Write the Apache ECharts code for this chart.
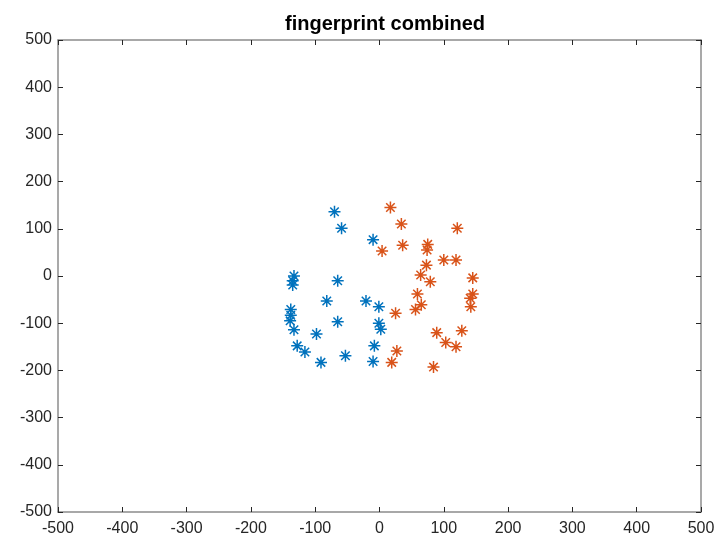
<!DOCTYPE html>
<html>
<head>
<meta charset="utf-8">
<script src="https://cdn.jsdelivr.net/npm/echarts@6/dist/echarts.min.js"></script>
<style>
  html, body { margin: 0; padding: 0; background: #fff; }
  #chart { width: 720px; height: 540px; }
</style>
</head>
<body>
<div id="chart"></div>
<script>
// Fingerprint minutiae, two sets plotted together
const titleText = 'fingerprint combined';
const axisMin = -500;
const axisMax = 500;
const axisStep = 100;

const setA = [
  [-70, 136], [-59, 101], [-10, 77], [-133, 0], [-135, -10], [-135, -19],
  [-65, -10], [-82, -53], [-21, -53], [-1, -65], [-138, -71], [-138, -83],
  [-139, -95], [-133, -114], [-65, -97], [-98, -123], [-1, -100], [2, -113],
  [-128, -148], [-116, -161], [-53, -169], [-91, -183], [-8, -148], [-10, -181]
];

const setB = [
  [17, 145], [34, 110], [121, 101], [36, 65], [4, 53], [75, 67], [74, 55],
  [100, 34], [119, 34], [73, 23], [64, 2], [79, -12], [145, -4], [59, -38],
  [145, -38], [141, -47], [65, -61], [56, -71], [142, -65], [25, -79],
  [89, -120], [128, -116], [103, -141], [119, -150], [27, -159], [19, -183],
  [84, -193]
];

const colorA = '#0072BD';
const colorB = '#D95319';

// asterisk marker: plus and cross strokes
const asterisk = 'path://M0,-10L0,10M-10,0L10,0M-7.07,-7.07L7.07,7.07M-7.07,7.07L7.07,-7.07';

const frameColor = '#8c8c8c';
const fontFamily = 'Liberation Sans, Arial, sans-serif';

function valueAxis(pos, showLabels) {
  return {
    type: 'value',
    position: pos,
    min: axisMin,
    max: axisMax,
    interval: axisStep,
    splitLine: { show: false },
    axisLine: { show: true, onZero: false, lineStyle: { color: frameColor, width: 1.5 } },
    axisTick: { show: true, inside: true, length: 5, lineStyle: { color: '#262626', width: 1 } },
    axisLabel: {
      show: showLabels,
      margin: pos === 'bottom' ? 9 : 6,
      color: '#262626',
      fontSize: 16,
      fontFamily: fontFamily
    }
  };
}

function scatterSeries(data, color) {
  return {
    type: 'scatter',
    data: data,
    symbol: asterisk,
    symbolSize: 12,
    itemStyle: { color: 'none', borderColor: color, borderWidth: 1.5, opacity: 1 },
    emphasis: { disabled: true }
  };
}

const chart = echarts.init(document.getElementById('chart'), null, { renderer: 'canvas' });
chart.setOption({
  backgroundColor: '#ffffff',
  animation: false,
  title: {
    text: titleText,
    left: 380,
    textAlign: 'center',
    top: 9,
    textStyle: { fontFamily: fontFamily, fontWeight: 'bold', fontSize: 20, color: '#000' }
  },
  grid: { left: 58, right: 19, top: 40, bottom: 28 },
  xAxis: [valueAxis('bottom', true), valueAxis('top', false)],
  yAxis: [valueAxis('left', true), valueAxis('right', false)],
  series: [scatterSeries(setA, colorA), scatterSeries(setB, colorB)]
});
</script>
</body>
</html>
